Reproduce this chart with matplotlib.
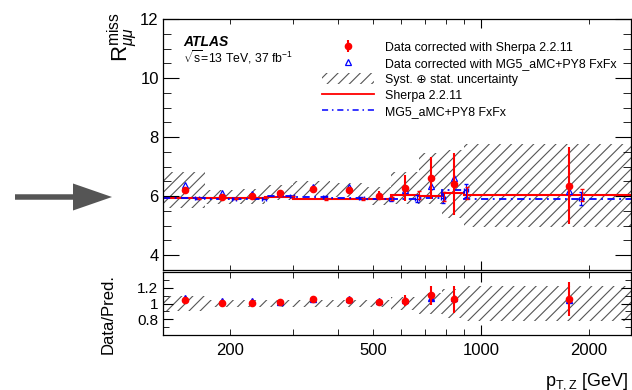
import numpy as np
import matplotlib
matplotlib.use('Agg')
import matplotlib.pyplot as plt
from matplotlib.patches import FancyArrow, Patch
from matplotlib.lines import Line2D
from matplotlib.ticker import FixedLocator, MultipleLocator, FormatStrFormatter, FuncFormatter

# binning in pT,Z [GeV]
bin_edges = [130, 170, 210, 250, 300, 380, 480, 560, 670, 780, 900, 2620]
bin_centers = [150, 190, 230, 275, 340, 430, 520, 615, 725, 840, 1760]

# predictions
sherpa = [5.93, 5.93, 5.95, 5.97, 5.91, 5.91, 5.91, 6.04, 5.99, 6.10, 6.04]
mg5 = [5.93, 5.92, 5.92, 6.00, 5.97, 5.93, 5.90, 5.92, 5.95, 6.20, 5.91]
sherpa_mc_err = [0.02, 0.02, 0.02, 0.02, 0.03, 0.04, 0.05, 0.12, 0.15, 0.2, 0.2]
mg5_mc_err = [0.02, 0.02, 0.02, 0.02, 0.03, 0.04, 0.05, 0.13, 0.18, 0.22, 0.22]

# corrected data
data_sherpa = [6.21, 5.97, 5.99, 6.12, 6.25, 6.21, 6.01, 6.27, 6.61, 6.41, 6.36]
data_sherpa_err = [0.08, 0.06, 0.06, 0.06, 0.08, 0.1, 0.15, 0.45, 0.7, 1.05, 1.3]
data_mg5 = [6.38, 6.10, 6.08, 6.12, 6.30, 6.30, 6.05, 6.21, 6.33, 6.63, 6.16]

# relative syst+stat uncertainty
rel_unc = [0.10, 0.04, 0.04, 0.04, 0.04, 0.04, 0.05, 0.085, 0.13, 0.18, 0.22]

plt.rcParams['font.family'] = ['Liberation Sans', 'DejaVu Sans']
plt.rcParams['mathtext.fontset'] = 'custom'
plt.rcParams['mathtext.rm'] = 'Liberation Sans'
plt.rcParams['mathtext.it'] = 'Liberation Sans:italic'
plt.rcParams['hatch.linewidth'] = 0.8

edges = np.array(bin_edges, dtype=float)
xc = np.array(bin_centers, dtype=float)
sherpa = np.array(sherpa)
mg5 = np.array(mg5)
d_sh = np.array(data_sherpa)
d_sh_e = np.array(data_sherpa_err)
d_mg = np.array(data_mg5)
rel = np.array(rel_unc)

fig = plt.figure(figsize=(6.32, 3.90), dpi=100)
ax = fig.add_axes([163/632, 1-270/390, 468/632, 251/390])
rax = fig.add_axes([163/632, 1-335/390, 468/632, 63/390], sharex=ax)

hatch_col = '#555555'
left = edges[:-1]
width = np.diff(edges)
dashdot = (0, (4, 2.5, 1, 2.5))

# main panel
ax.bar(left, 2*rel*d_sh, width=width, bottom=d_sh*(1-rel), align='edge',
       fill=False, hatch='///', edgecolor=hatch_col, lw=0)
ax.stairs(sherpa, edges, baseline=None, color='red', lw=1.5)
ax.stairs(mg5, edges, baseline=None, color='blue', lw=1.3, linestyle=dashdot)
ax.errorbar(xc*1.08, mg5, yerr=mg5_mc_err, xerr=[xc*0.015, xc*0.015], fmt='none',
            ecolor='blue', elinewidth=0.8, capsize=1.5)
ax.errorbar(xc*1.09, sherpa, yerr=sherpa_mc_err, fmt='none',
            ecolor='red', elinewidth=0.8, capsize=1.5)
ax.plot(xc, d_mg, '^', color='blue', mfc='white', mec='blue', ms=4.5, mew=0.9)
eb = ax.errorbar(xc, d_sh, yerr=d_sh_e, fmt='o', color='red', ms=4.5, elinewidth=1.5)

# ratio panel
rax.bar(left, 2*rel, width=width, bottom=1-rel, align='edge',
        fill=False, hatch='///', edgecolor=hatch_col, lw=0)
rax.plot(xc, d_mg/mg5, '^', color='blue', ms=4.5)
rax.errorbar(xc, d_sh/sherpa, yerr=d_sh_e/sherpa, fmt='o', color='red', ms=4.5, elinewidth=1.5)

ax.set_xscale('log')
ax.set_xlim(130, 2620)
ax.set_ylim(3.5, 12)
rax.set_ylim(0.6, 1.4)

ax.yaxis.set_major_locator(MultipleLocator(2))
ax.yaxis.set_minor_locator(MultipleLocator(0.5))
rax.yaxis.set_major_locator(FixedLocator([0.8, 1.0, 1.2]))
rax.yaxis.set_minor_locator(MultipleLocator(0.1))
rax.yaxis.set_major_formatter(FormatStrFormatter('%g'))

for a in (ax, rax):
    a.xaxis.set_major_locator(FixedLocator([1000]))
    a.xaxis.set_minor_locator(FixedLocator([200, 300, 400, 500, 600, 700, 800, 900, 2000]))
    a.tick_params(which='both', direction='in', top=True, right=True, labelsize=11)
    for s in a.spines.values():
        s.set_linewidth(0.9)

ax.tick_params(axis='y', which='major', length=11.5)
ax.tick_params(axis='y', which='minor', length=6)
ax.tick_params(axis='x', which='major', length=6.5)
ax.tick_params(axis='x', which='minor', length=3.5)
ax.tick_params(axis='y', labelsize=12, pad=3)
plt.setp(ax.get_xticklabels(which='both'), visible=False)
rax.tick_params(axis='y', which='major', length=7)
rax.tick_params(axis='y', which='minor', length=4)
rax.tick_params(axis='x', which='major', length=7)
rax.tick_params(axis='x', which='minor', length=4)
rax.xaxis.set_major_formatter(FuncFormatter(lambda v, p: '%d' % v))
rax.xaxis.set_minor_formatter(FuncFormatter(
    lambda v, p: '%d' % v if v in (200, 500, 2000) else ''))
rax.tick_params(axis='x', which='both', pad=6, labelsize=12)

# labels
fig.text(122/632, 1-12/390, r'$\mathrm{R}^{\mathrm{miss}}_{\mu\mu}$', rotation=90,
         ha='center', va='top', fontsize=16)
fig.text(108/632, 1-314/390, 'Data/Pred.', rotation=90, ha='center', va='center', fontsize=12)
fig.text(628/632, 1-385/390, r'$\mathrm{p}_{\mathrm{T,Z}}$ [GeV]', ha='right', va='baseline',
         fontsize=13)

fig.text(183/632, 1-46/390, 'ATLAS', fontsize=10, fontweight='bold', fontstyle='italic')
fig.text(183/632, 1-63/390, r'$\sqrt{\mathrm{s}}$=13 TeV, 37 fb$^{-1}$', fontsize=8.8)

handles = [
    eb,
    Line2D([], [], marker='^', ls='none', color='blue', mfc='white', ms=4.5, mew=0.9),
    Patch(facecolor='none', edgecolor=hatch_col, hatch='///', lw=0),
    Line2D([], [], color='red', lw=1.3),
    Line2D([], [], color='blue', lw=1.1, linestyle=dashdot),
]
labels = ['Data corrected with Sherpa 2.2.11',
          'Data corrected with MG5_aMC+PY8 FxFx',
          'Syst. \u2295 stat. uncertainty',
          'Sherpa 2.2.11',
          'MG5_aMC+PY8 FxFx']
ax.legend(handles, labels, loc='upper left', bbox_to_anchor=(316/632, 1-35/390),
          bbox_transform=fig.transFigure, frameon=False, fontsize=8.9,
          handlelength=4.2, handleheight=1.0, handletextpad=0.9,
          labelspacing=0.27, borderpad=0)

# arrow on the left
fig.add_artist(FancyArrow(0.15, 1.93, 0.97, 0, width=0.055, head_width=0.27,
                          head_length=0.39, length_includes_head=True,
                          color='#555555', lw=0, transform=fig.dpi_scale_trans))

fig.savefig('out.png', dpi=100)
